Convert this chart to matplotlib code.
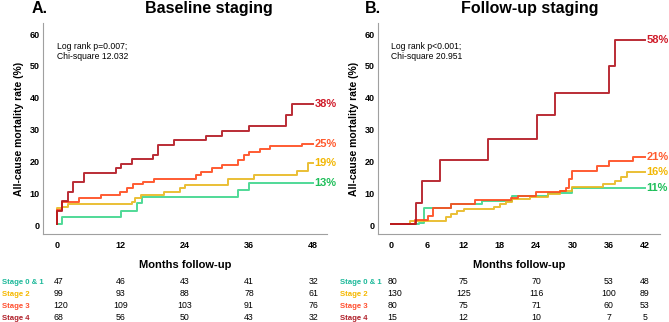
import matplotlib.pyplot as plt
from matplotlib.transforms import blended_transform_factory

plt.rcParams['font.family'] = ['Liberation Sans', 'DejaVu Sans']

# --- Panel A: baseline staging (cumulative mortality, %) ---
a_s01_t = [0, 1, 12, 15, 16, 34, 36, 48]
a_s01_v = [0.3, 2.4, 4.5, 6.8, 8.9, 11, 13.2, 13.2]
a_s2_t = [0, 0.05, 1, 2, 14, 14.6, 15.7, 20, 23, 24, 32, 37, 45, 47, 48]
a_s2_v = [0.3, 5.3, 5.8, 6.6, 7.4, 8.4, 9.4, 10.5, 11.5, 12.5, 14.5, 15.6, 17, 19.5, 19.5]
a_s3_t = [0, 0.05, 1, 4.2, 8.2, 11.9, 13.2, 14.2, 16.2, 18.1, 26, 27, 29, 31, 34, 35, 36, 38, 40, 46, 48]
a_s3_v = [0.3, 4.8, 7.1, 8.4, 9.4, 10.5, 11.7, 12.8, 13.6, 14.5, 15.8, 16.8, 17.8, 18.8, 20.5, 22, 23, 24, 25, 25.6, 25.6]
a_s4_t = [0, 0.1, 1, 2, 3, 5, 11, 12, 14, 18, 19, 22, 28, 31, 36, 43, 44, 48]
a_s4_v = [0.3, 4.5, 7.5, 10.5, 13.5, 16.5, 17.8, 19.3, 20.7, 22, 25.3, 26.6, 28, 29.5, 31, 34.5, 38.2, 38.2]
a_final = ['13%', '19%', '25%', '38%']
a_risk_months = [0, 12, 24, 36, 48]
a_risk = [[47, 46, 43, 41, 32],
          [99, 93, 88, 78, 61],
          [120, 109, 103, 91, 76],
          [68, 56, 50, 43, 32]]

# --- Panel B: follow-up staging ---
b_s01_t = [0, 4.6, 5.5, 10, 15, 20, 26, 30, 42]
b_s01_v = [0.3, 0.6, 5.4, 6.5, 7.5, 9.2, 10.2, 11.7, 11.7]
b_s2_t = [0, 3.1, 9.1, 10, 11, 12, 17, 18, 19, 20, 23, 26, 28, 30, 35, 37, 38, 39, 42]
b_s2_v = [0.3, 1.2, 2.4, 3.4, 4.3, 5, 5.8, 6.6, 7.4, 8.2, 8.9, 9.8, 10.6, 12, 13, 14, 15.2, 16.8, 16.8]
b_s3_t = [0, 4, 6.1, 6.9, 9.9, 13.9, 19.8, 21, 24, 28, 29, 29.5, 30, 34, 36, 40, 42]
b_s3_v = [0.3, 1.6, 2.9, 5.3, 6.7, 7.9, 8.5, 9, 10.3, 10.8, 11.8, 14.5, 17, 18.5, 20, 21.3, 21.3]
b_s4_t = [0, 4.2, 5.1, 8.1, 16.1, 24.1, 27.1, 36, 37, 42]
b_s4_v = [0.3, 7, 13.8, 20.5, 27, 34.5, 41.5, 50, 58.3, 58.3]
b_final = ['11%', '16%', '21%', '58%']
b_risk_months = [0, 12, 24, 36, 42]
b_risk = [[80, 75, 70, 53, 48],
          [130, 125, 116, 100, 89],
          [80, 75, 71, 60, 53],
          [15, 12, 10, 7, 5]]

stage_names = ['Stage 0 & 1', 'Stage 2', 'Stage 3', 'Stage 4']
line_colors = ['#3dd68c', '#e8b820', '#ff4a1c', '#b2151f']
text_colors = ['#1fbf5a', '#f2b705', '#ff5a2e', '#d01c2a']
name_colors = ['#1db99a', '#f5b800', '#ff5030', '#b0202a']

W, H = 669, 322
fig = plt.figure(figsize=(W / 100, H / 100), dpi=100)
axA = fig.add_axes([43 / W, 1 - 234 / H, 284 / W, 211 / H])
axB = fig.add_axes([378 / W, 1 - 234 / H, 282 / W, 211 / H])


def draw_panel(ax, series, finals, xlim, xticks, tag, tag_x, title, title_x,
               stats, risk_months, risk, label_x):
    for (t, v), col, tcol, lab in zip(series, line_colors, text_colors, finals):
        ax.step(t, v, where='post', color=col, lw=1.4, alpha=0.9)
        ax.text(t[-1] + 0.3, v[-1], lab, color=tcol, fontsize=8,
                fontweight='bold', va='center', ha='left', clip_on=False)
    ax.set_xlim(*xlim)
    ax.set_ylim(-2.8, 63.5)
    ax.set_xticks(xticks)
    ax.set_yticks(range(0, 61, 10))
    ax.tick_params(axis='y', length=0, labelsize=6.5, pad=2.5)
    ax.tick_params(axis='x', length=0, labelsize=6.5, pad=5)
    for lbl in ax.get_xticklabels() + ax.get_yticklabels():
        lbl.set_fontweight('bold')
    for s in ['top', 'right']:
        ax.spines[s].set_visible(False)
    for s in ['left', 'bottom']:
        ax.spines[s].set_color('#a0a0a0')
        ax.spines[s].set_linewidth(0.8)
    ax.set_ylabel('All-cause mortality rate (%)', fontsize=7.5,
                  fontweight='bold', labelpad=4)
    ax.set_xlabel('Months follow-up', fontsize=8, fontweight='bold',
                  labelpad=7)
    ax.text(0, 57.5, stats, fontsize=6.2, va='top', ha='left', linespacing=1.1)
    fig.text(title_x / W, 1 - 13 / H, title, fontsize=11.5, fontweight='bold',
             ha='center', va='baseline')
    fig.text(tag_x / W, 1 - 13 / H, tag, fontsize=11.5, fontweight='bold',
             ha='left', va='baseline')
    # number-at-risk table
    tr = blended_transform_factory(ax.transData, fig.transFigure)
    row_y = [1 - 282 / H, 1 - 294 / H, 1 - 306 / H, 1 - 318 / H]
    for name, ncol, counts, y in zip(stage_names, name_colors, risk, row_y):
        fig.text(label_x / W, y, name, color=ncol, fontsize=5.6,
                 fontweight='bold', va='center', ha='left')
        for j, (m, n) in enumerate(zip(risk_months, counts)):
            ha = 'left' if j == 0 else 'center'
            xx = m - 0.6 if j == 0 else m
            ax.text(xx, y, str(n), transform=tr, fontsize=6.3, ha=ha,
                    va='center', clip_on=False)


draw_panel(axA, [(a_s01_t, a_s01_v), (a_s2_t, a_s2_v), (a_s3_t, a_s3_v), (a_s4_t, a_s4_v)],
           a_final, (-2.6, 50.6), [0, 12, 24, 36, 48], 'A.', 32, 'Baseline staging', 209,
           'Log rank p=0.007;\nChi-square 12.032', a_risk_months, a_risk, 2)
draw_panel(axB, [(b_s01_t, b_s01_v), (b_s2_t, b_s2_v), (b_s3_t, b_s3_v), (b_s4_t, b_s4_v)],
           b_final, (-2.15, 44.5), [0, 6, 12, 18, 24, 30, 36, 42], 'B.', 365, 'Follow-up staging', 530,
           'Log rank p<0.001;\nChi-square 20.951', b_risk_months, b_risk, 340)

fig.savefig('out.png', dpi=100)
